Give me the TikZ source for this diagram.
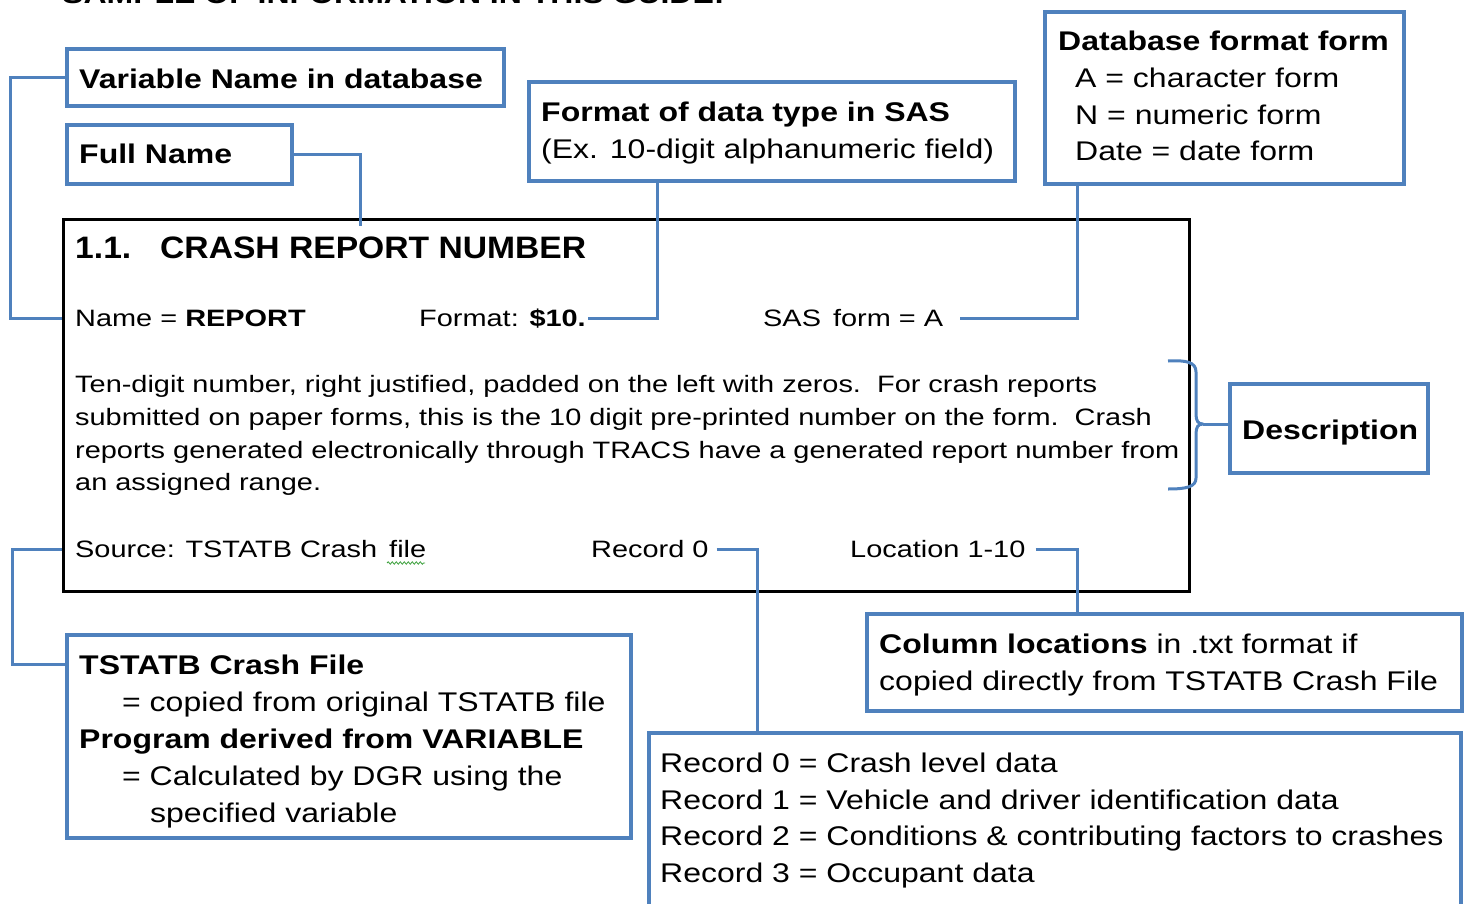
\documentclass[tikz,border=0pt]{standalone}
\usepackage{fontspec}
\setmainfont{Liberation Sans}
\newfontfamily\annfont[FakeStretch=1.185]{Liberation Sans}
\newfontfamily\docfont[FakeStretch=1.22]{Liberation Sans}
\newfontfamily\hdfont[FakeStretch=1.085]{Liberation Sans}
\usetikzlibrary{decorations.pathmorphing}
\definecolor{obl}{HTML}{4F81BD}
\definecolor{sqg}{HTML}{3CA03C}
\begin{document}
\begin{tikzpicture}[x=1pt,y=-1pt,
  abox/.style={draw=obl, line width=4pt, inner sep=0pt, anchor=north west},
  conn/.style={draw=obl, line width=3pt},
  ann/.style={inner sep=0pt, anchor=base west, font=\annfont\fontsize{27}{31}\selectfont},
  doc/.style={inner sep=0pt, anchor=base west, font=\docfont\fontsize{23.7}{32}\selectfont},
  hd/.style={inner sep=0pt, anchor=base west, font=\hdfont\bfseries\fontsize{31}{36}\selectfont}]
\useasboundingbox (0,0) rectangle (1466,904);
\clip (0,0) rectangle (1466,904);

% title (cut off at top, as in the reference)
\node[ann] (title) at (62,4) {\bfseries SAMPLE OF INFORMATION IN THIS GUIDE:};

% annotation boxes (anchor = outer edge of the border)
\node[abox, minimum width=437, minimum height=57] (varbox) at (65,47) {};
\node[abox, minimum width=225, minimum height=59] (fullbox) at (65,123) {};
\node[abox, minimum width=486, minimum height=99] (fmtbox) at (527,80) {};
\node[abox, minimum width=359, minimum height=172] (dbbox) at (1043,10) {};
\node[abox, minimum width=198, minimum height=89] (descbox) at (1228,382) {};
\node[abox, minimum width=595, minimum height=97] (colbox) at (865,612) {};
\node[abox, minimum width=564, minimum height=203] (tsbox) at (65,633) {};
\node[abox, minimum width=812, minimum height=300] (recbox) at (647,731) {};

% main record box
\node[draw=black, line width=3pt, inner sep=0pt, anchor=north west,
      minimum width=1126, minimum height=372] (mainbox) at (62,218) {};

% annotation texts
\node[ann] (varT) at (79,89) {\bfseries Variable Name in database};
\node[ann] (fullT) at (79,164) {\bfseries Full Name};
\node[ann] (fmtT1) at (541,122) {\bfseries Format of data type in SAS};
\node[ann] (fmtT2) at (541,159) {(Ex. 10-digit alphanumeric field)};
\node[ann] (dbT1) at (1058,51) {\bfseries Database format form};
\node[ann] (dbT2) at (1075,88) {A = character form};
\node[ann] (dbT3) at (1075,125) {N = numeric form};
\node[ann] (dbT4) at (1075,161) {Date = date form};
\node[ann] (descT) at (1242,439) {\bfseries Description};
\node[ann] (colT1) at (879,653) {\textbf{Column locations} in .txt format if};
\node[ann] (colT2) at (879,690) {copied directly from TSTATB Crash File};
\node[ann] (tsT1) at (79,674) {\bfseries TSTATB Crash File};
\node[ann] (tsT2) at (122,711) {= copied from original TSTATB file};
\node[ann] (tsT3) at (79,748) {\bfseries Program derived from VARIABLE};
\node[ann] (tsT4) at (122,785) {= Calculated by DGR using the};
\node[ann] (tsT5) at (150,822) {specified variable};
\node[ann] (recT1) at (660,772) {Record 0 = Crash level data};
\node[ann] (recT2) at (660,809) {Record 1 = Vehicle and driver identification data};
\node[ann] (recT3) at (660,845) {Record 2 = Conditions \& contributing factors to crashes};
\node[ann] (recT4) at (660,882) {Record 3 = Occupant data};

% record page texts
\node[hd] (hdNum) at (75,258) {1.1.};
\node[hd] (hdTxt) at (160,258) {CRASH REPORT NUMBER};
\node[doc] (nameTxt) at (75,326.5) {Name = \textbf{REPORT}};
\node[doc] (fmtTxt) at (419,326.5) {Format: \textbf{\$10.}};
\node[doc] (sasTxt) at (763,326.5) {SAS\, form = A};
\node[doc] (p1) at (75,392) {Ten-digit number, right justified, padded on the left with zeros.\ \ For crash reports};
\node[doc] (p2) at (75,425) {submitted on paper forms, this is the 10 digit pre-printed number on the form.\ \ Crash};
\node[doc] (p3) at (75,458) {reports generated electronically through TRACS have a generated report number from};
\node[doc] (p4) at (75,490) {an assigned range.};
\node[doc] (srcTxt) at (75,557.5) {Source: TSTATB Crash\, file};
\node[doc] (rec0Txt) at (591,557.5) {Record 0};
\node[doc] (locTxt) at (850,557.5) {Location 1-10};

% spell-check squiggle under "file"
\coordinate (sqA) at (387,563);
\coordinate (sqB) at (425,563);
\draw[sqg, line width=0.8pt, decorate, decoration={snake, amplitude=1.2pt, segment length=4pt}] (sqA) -- (sqB);

% connector helper coordinates
\coordinate (fnEnd) at (360,226);
\coordinate (fmtTop) at (657,181);
\coordinate (dbBot) at (1077,184);
\coordinate (recJ) at (757,0);
\coordinate (locJ) at (1077,0);

% connectors
\draw[conn] (varbox.west) -- (10,0 |- varbox.west) |- (mainbox.west |- nameTxt.west);
\draw[conn] (fullbox.east) -| (fnEnd);
\draw[conn] (fmtTop) |- ([xshift=2pt]fmtTxt.east);
\draw[conn] (dbBot) |- ([xshift=17pt]sasTxt.east);
\draw[conn] (mainbox.west |- srcTxt.west) -- (12,0 |- srcTxt.west) |- (tsbox.west |- tsT1.west);
\draw[conn] ([xshift=8pt]rec0Txt.east) -| (recJ |- recbox.north);
\draw[conn] ([xshift=10pt]locTxt.east) -| (locJ |- colbox.north);

% description brace
\coordinate (brTop) at (1168,361);
\coordinate (brBot) at (1168,489);
\coordinate (brTip) at (1203,424);
\draw[obl, line width=3pt, line join=round]
  (brTop) .. controls (1186,360) and (1196,362) .. (1196,372) -- (1196,414)
  .. controls (1196,421) and (1198,424) .. (brTip)
  .. controls (1198,424) and (1196,427) .. (1196,434) -- (1196,478)
  .. controls (1196,487) and (1186,489) .. (brBot);
\draw[conn] (brTip) -- (descbox.west |- brTip);
\end{tikzpicture}
\end{document}
